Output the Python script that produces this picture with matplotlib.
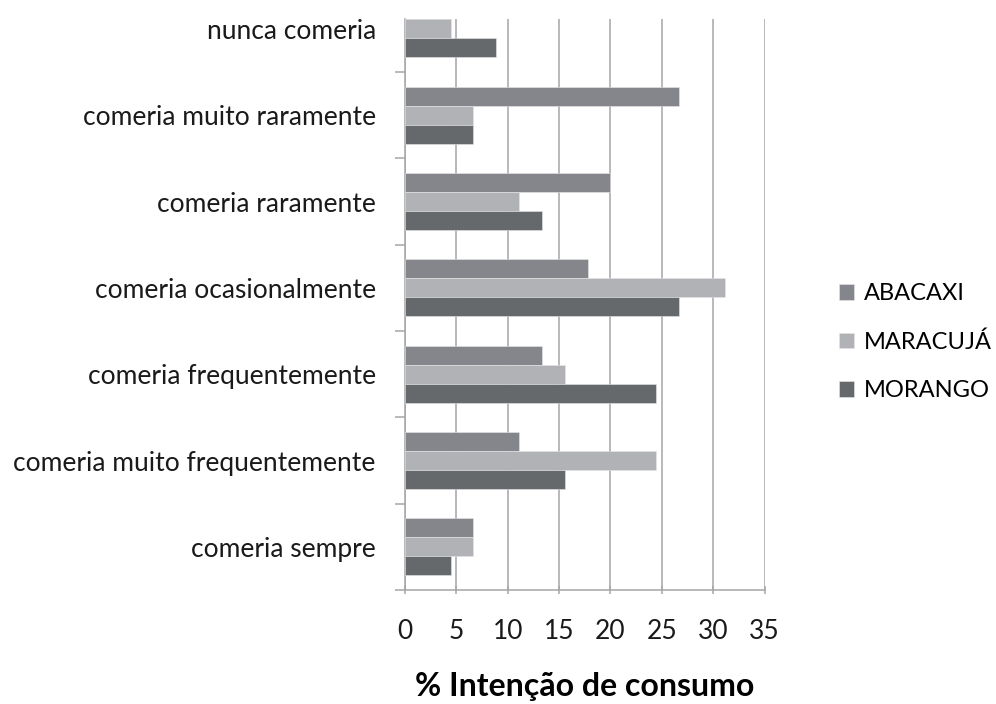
import matplotlib
matplotlib.use("Agg")
import matplotlib.pyplot as plt
import numpy as np

plt.rcParams['font.family'] = ['Lato', 'DejaVu Sans']

categorias = ["nunca comeria", "comeria muito raramente", "comeria raramente",
              "comeria ocasionalmente", "comeria frequentemente",
              "comeria muito frequentemente", "comeria sempre"]
abacaxi = [4.44, 26.67, 20.0, 17.78, 13.33, 11.11, 6.67]
maracuja = [4.44, 6.67, 11.11, 31.11, 15.56, 24.44, 6.67]
morango = [8.89, 6.67, 13.33, 26.67, 24.44, 15.56, 4.44]
series = ["ABACAXI", "MARACUJÁ", "MORANGO"]
cores = ["#85868b", "#b0b2b6", "#66696c"]
xticks = [0, 5, 10, 15, 20, 25, 30, 35]

fig = plt.figure(figsize=(9.96, 7.04), dpi=100)
ax = fig.add_axes([0.4066, 0.1619, 0.3610, 0.8111])

y = np.arange(len(categorias))
h = 0.22
for k, (vals, nome, cor) in enumerate(zip([abacaxi, maracuja, morango], series, cores)):
    ax.barh(y + (k - 1) * h, vals, height=h, color=cor, label=nome,
            edgecolor="#e6e6e8", linewidth=0.4, zorder=3)

ax.set_xlim(0, 35)
ax.set_ylim(6.5, -0.114)
ax.set_xticks(xticks)
ax.set_xticklabels([str(t) for t in xticks])
ax.xaxis.grid(True, color="#a6a6aa", linewidth=1.1, zorder=0)

# tick marks at category boundaries, labels at centres
ax.set_yticks(np.arange(0.5, 7.0, 1.0))
ax.set_yticklabels([])
ax.set_yticks(y, minor=True)
ax.set_yticklabels(categorias, minor=True)
ax.tick_params(axis="y", which="major", length=7, width=1.1, color="#a6a6aa", direction="out")
ax.tick_params(axis="y", which="minor", length=0, pad=21, labelsize=19, labelcolor="#1a1a1a")
ax.tick_params(axis="x", length=6, width=1.1, color="#a6a6aa", direction="inout",
               pad=18, labelsize=19, labelcolor="#1a1a1a")

for s in ["top", "right"]:
    ax.spines[s].set_visible(False)
for s in ["left", "bottom"]:
    ax.spines[s].set_color("#a6a6aa")
    ax.spines[s].set_linewidth(1.1)

ax.set_xlabel("% Intenção de consumo", fontsize=23, fontweight="bold", labelpad=20)

fig.legend(loc="center left", bbox_to_anchor=(0.842, 0.514), frameon=False,
           borderpad=0, borderaxespad=0,
           fontsize=17, handlelength=0.65, handleheight=0.65, labelspacing=1.15,
           handletextpad=0.4)

fig.savefig("out.png", dpi=100)
